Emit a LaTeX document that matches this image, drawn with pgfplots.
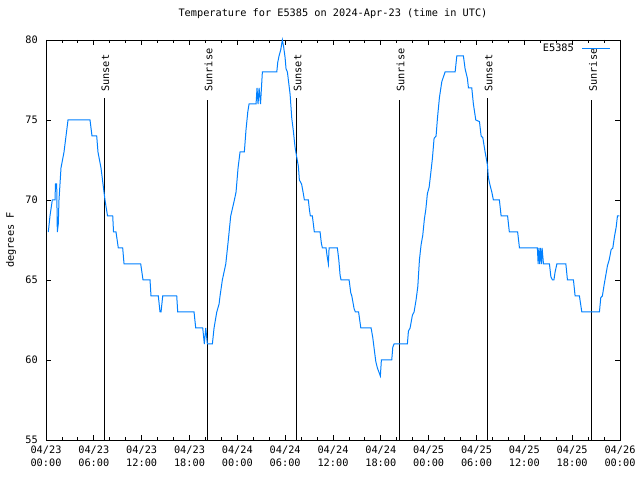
\documentclass[border=0pt]{standalone}
\usepackage{pgfplots}
\pgfplotsset{compat=1.18}
\usepackage{fontspec}
\setmainfont{DejaVu Sans Mono}
\definecolor{gpblue}{RGB}{0,128,255}
\pgfplotstableread{
h t
0.29 68
0.50 69
0.79 70
1.13 70
1.19 71
1.34 71
1.42 68
1.54 68.5
1.63 70
1.88 72
2.26 73
2.51 74
2.76 75
5.52 75
5.77 74
6.36 74
6.52 73
6.90 72
7.15 71
7.40 70
7.72 69
8.37 69
8.47 68
8.78 68
9.07 67
9.62 67
9.79 66
11.88 66
12.17 65
13.05 65
13.17 64
14.09 64
14.30 63
14.43 63
14.64 64
16.40 64
16.52 63
18.57 63
18.78 62
19.66 62
19.86 61
20.04 62
20.24 61
20.87 61
21.08 62
21.42 63
21.71 63.5
21.83 64
22.12 65
22.55 66
22.87 67.5
23.17 69
23.63 70
23.84 70.5
24.09 72
24.34 73
24.88 73
25.09 74.4
25.31 75.5
25.47 76
26.35 76
26.47 77
26.60 76
26.73 77
26.91 76
27.14 78
28.95 78
29.07 78.6
29.23 79
29.45 79.4
29.65 80
29.80 79.6
29.99 78.9
30.11 78.2
30.28 78
30.62 76.6
30.83 75.1
31.03 74.3
31.24 73.3
31.41 72.8
31.66 72.1
31.78 71.25
32.06 71
32.28 70.4
32.41 70
32.91 70
33.04 69.4
33.16 69
33.41 69
33.66 68
34.38 68
34.54 67.3
34.67 67
35.13 67
35.26 66.5
35.42 66
35.51 67
35.63 67
36.55 67
36.73 66.25
36.89 65.3
37.01 65
38.02 65
38.23 64.2
38.36 64
38.65 63.2
38.81 63
39.21 63
39.49 62
40.78 62
40.99 61.4
41.19 60.6
41.37 59.9
41.57 59.5
41.87 59.1
41.94 59
42.07 60
43.37 60
43.50 60.8
43.66 61
45.33 61
45.46 61.8
45.67 62
45.96 62.8
46.17 63
46.42 63.75
46.64 64.6
46.84 66.25
47.05 67.2
47.26 67.8
47.46 68.8
47.64 69.4
47.84 70.4
48.06 70.8
48.27 71.7
48.47 72.6
48.68 73.85
48.93 74
49.10 75.1
49.35 76.4
49.65 77.4
50.06 78
51.32 78
51.53 79
52.36 79
52.57 78.2
52.86 77.6
52.99 77
53.41 77
53.61 76
53.91 75
54.37 74.9
54.58 74
54.79 73.9
55.08 73
55.37 72.2
55.49 71.4
55.71 70.9
55.92 70.5
56.12 70
56.87 70
57.09 69
57.90 69
58.12 68
59.16 68
59.39 67
61.64 67
61.73 66
61.82 67
61.92 66
62.02 67
62.15 66
62.23 67
62.40 66
63.15 66
63.33 65.2
63.53 65
63.71 65
63.86 65.5
64.08 66
65.21 66
65.41 65
66.16 65
66.37 64
66.91 64
67.21 63
69.42 63
69.59 63.9
69.79 64
70.01 64.7
70.22 65.3
70.43 65.9
70.64 66.25
70.89 66.9
71.10 67
71.30 67.7
71.52 68.3
71.68 69
71.93 69
}\temps
\begin{document}
\fontsize{10.3}{13.5}\selectfont
\begin{tikzpicture}
\useasboundingbox (-46bp,-40bp) rectangle (594bp,440bp);
\begin{axis}[
  scale only axis,
  width=574bp, height=400bp,
  xmin=0, xmax=72, ymin=55, ymax=80,
  axis line style={black, line width=0.8bp},
  xtick={0,6,...,72},
  xticklabels={{04/23\\00:00},{04/23\\06:00},{04/23\\12:00},{04/23\\18:00},{04/24\\00:00},{04/24\\06:00},{04/24\\12:00},{04/24\\18:00},{04/25\\00:00},{04/25\\06:00},{04/25\\12:00},{04/25\\18:00},{04/26\\00:00}},
  minor x tick num=2,
  ytick={55,60,...,80},
  tick align=inside,
  major tick length=5bp, minor tick length=3bp,
  tick style={black, line width=0.8bp},
  xticklabel style={align=center, inner sep=0pt, yshift=-5.5bp},
  yticklabel style={inner sep=0pt, xshift=-8bp, text height=7.5bp, text depth=0pt},
  /pgf/number format/assume math mode=true,
  title={Temperature for E5385 on 2024-Apr-23 (time in UTC)},
  title style={at={(axis description cs:0.5,1.05)}, anchor=center, inner sep=0pt},
  ylabel={degrees F},
  ylabel style={at={(axis description cs:-0.061,0.5)}, anchor=center, inner sep=0pt},
  legend plot pos=right,
  legend style={at={(axis description cs:1,1)}, anchor=north east, draw=none, fill=none, xshift=-8bp, yshift=-1bp, inner sep=1bp,
    /tikz/every odd column/.append style={column sep=6bp}},
  legend image code/.code={\draw[#1] (0bp,0bp) -- (28bp,0bp);},
  clip=false,
]
\addplot[forget plot, black, line width=0.8bp] coordinates {(7.31,55) (7.31,76.35)};
\addplot[forget plot, black, line width=0.8bp] coordinates {(20.24,55) (20.24,76.25)};
\addplot[forget plot, black, line width=0.8bp] coordinates {(31.41,55) (31.41,76.35)};
\addplot[forget plot, black, line width=0.8bp] coordinates {(44.33,55) (44.33,76.25)};
\addplot[forget plot, black, line width=0.8bp] coordinates {(55.37,55) (55.37,76.35)};
\addplot[forget plot, black, line width=0.8bp] coordinates {(68.47,55) (68.47,76.25)};
\node[rotate=90, anchor=west, inner sep=0pt] at (axis cs:7.45,76.75) {Sunset};
\node[rotate=90, anchor=west, inner sep=0pt] at (axis cs:20.38,76.75) {Sunrise};
\node[rotate=90, anchor=west, inner sep=0pt] at (axis cs:31.55,76.75) {Sunset};
\node[rotate=90, anchor=west, inner sep=0pt] at (axis cs:44.47,76.75) {Sunrise};
\node[rotate=90, anchor=west, inner sep=0pt] at (axis cs:55.51,76.75) {Sunset};
\node[rotate=90, anchor=west, inner sep=0pt] at (axis cs:68.61,76.75) {Sunrise};
\addplot[gpblue, line width=1bp, mark=none] table[x=h, y=t] {\temps};
\addlegendentry{E5385}
\end{axis}
\end{tikzpicture}
\end{document}
